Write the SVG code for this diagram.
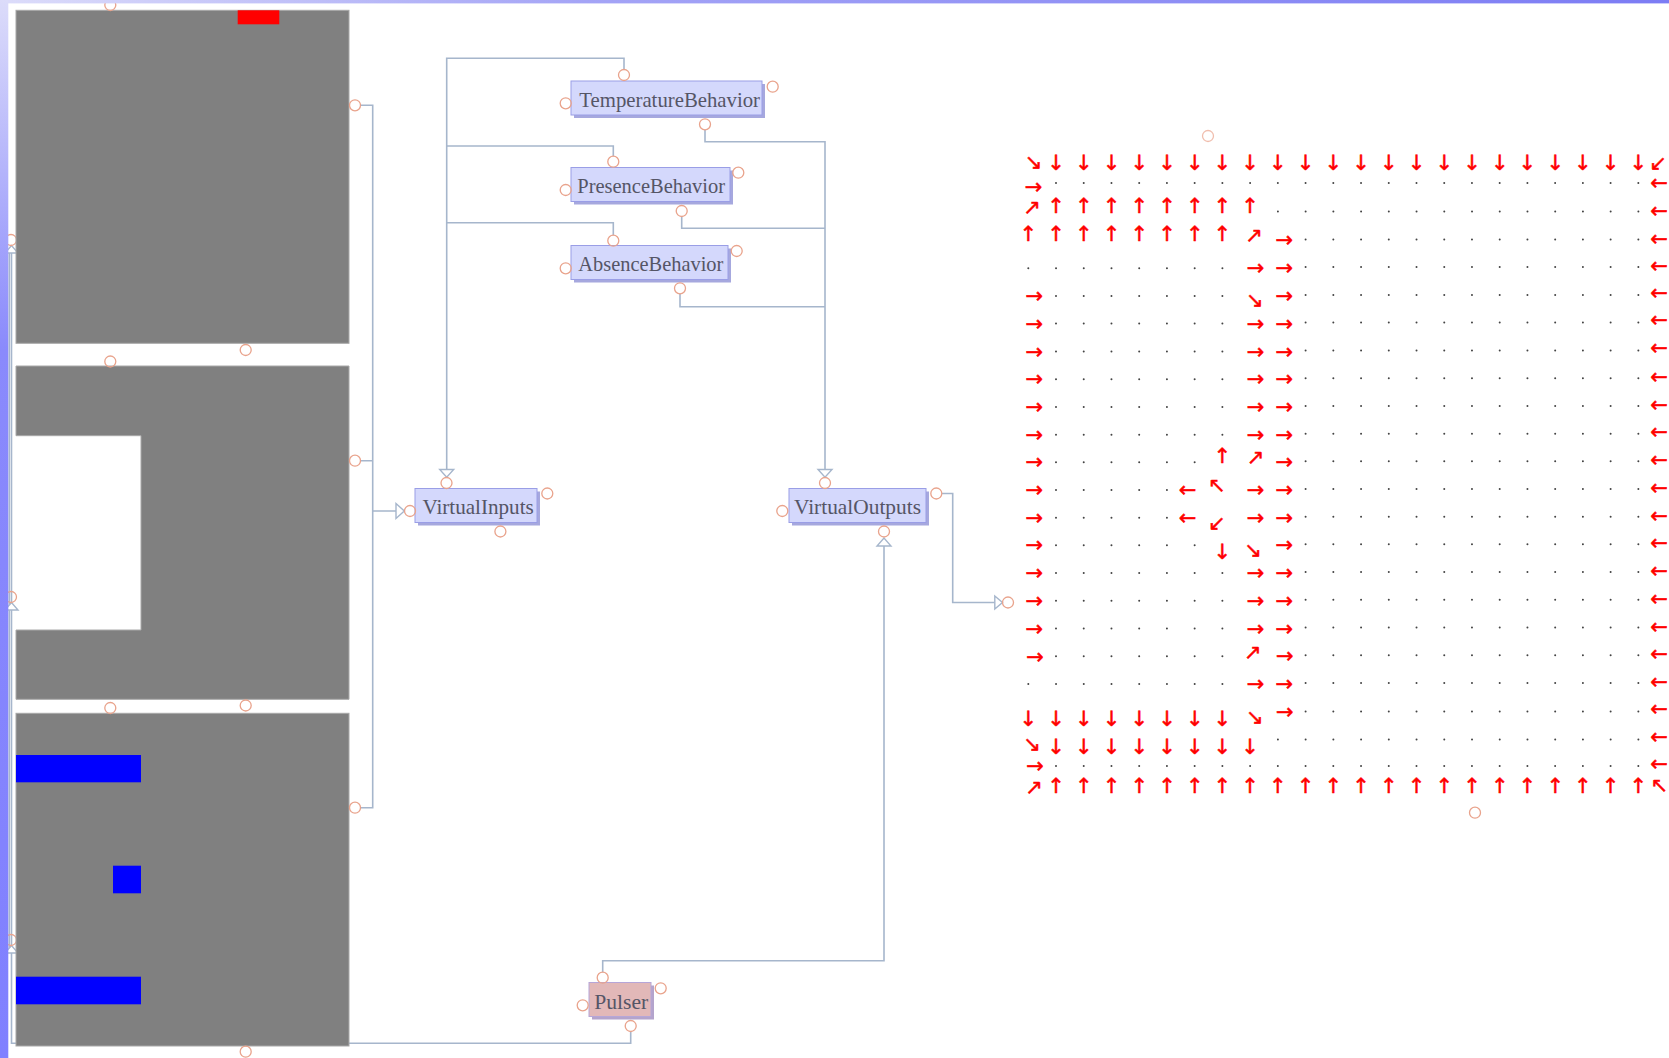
<svg xmlns="http://www.w3.org/2000/svg" width="1669" height="1058" viewBox="0 0 1669 1058">
<defs>
<linearGradient id="gTop" x1="0" y1="0" x2="1669" y2="0" gradientUnits="userSpaceOnUse">
<stop offset="0" stop-color="#dcdcfa"/><stop offset="0.35" stop-color="#a4a4f6"/><stop offset="1" stop-color="#7c7cf4"/>
</linearGradient>
<linearGradient id="gLeft" x1="0" y1="0" x2="0" y2="1058" gradientUnits="userSpaceOnUse">
<stop offset="0" stop-color="#dcdcfa"/><stop offset="0.33" stop-color="#8a8afc"/><stop offset="1" stop-color="#8080ff"/>
</linearGradient>
</defs>
<style>
.port{fill:none;stroke:#e9a38c;stroke-width:1.3}
.wire{fill:none;stroke:#a6b6cc;stroke-width:1.6}
.head{fill:#fff;stroke:#a6b6cc;stroke-width:1.4}
.room{fill:#808080;stroke:#a8a8a8;stroke-width:1}
.nb{fill:#d4d8fc;stroke:#9a9ee6;stroke-width:1}
.sh{fill:#a6a8de}
.pb{fill:#e2b8b8;stroke:#b6a6d8;stroke-width:1}
.psh{fill:#b4a4cc}
.lbl{font-family:"Liberation Serif","DejaVu Serif",serif;font-size:21px;fill:#555566}
.ar{font-family:"DejaVu Sans",sans-serif;font-size:21px;fill:#ff0000;stroke:#ff0000;stroke-width:0.5;text-anchor:middle;dominant-baseline:central}
.dots{fill:none;stroke:#444;stroke-width:2;stroke-linecap:round;stroke-dasharray:0 27.73}
</style>
<rect x="0" y="0" width="1669" height="1058" fill="#fff"/>

<g id="connectors">
<path class="wire" d="M360.5 105.3H372.7V807.7H360.5M360.5 460.7H372.7M372.7 511H396"/>
<path class="wire" d="M624 69.5V58.3H446.7V469.5M446.7 146H613.3V156.2M446.7 222.7H613.3V235.2"/>
<path class="wire" d="M705 129.8V141.7H825V469.5M681.7 216.5V228.3H825M680 293.8V306.7H825"/>
<path class="wire" d="M941.8 493.5H952.7V602.5H994.8"/>
<path class="wire" d="M602.7 972.2V960.7H884V546"/>
<path class="wire" d="M630.7 1031.5V1043.3H11.5V253M9.3 953V253"/>
<path class="head" d="M396 503.5L404.3 511L396 518.5Z"/>
<path class="head" d="M439.7 469.5H453.7L446.7 477.3Z"/>
<path class="head" d="M818 469.5H832L825 477.3Z"/>
<path class="head" d="M994.8 596L1002.5 602.5L994.8 609Z"/>
<path class="head" d="M877 546H891L884 538Z"/>
<path class="head" d="M5 253H18L11.5 245.5Z"/>
<path class="head" d="M5 610H18L11.5 602.5Z"/>
<path class="head" d="M5 953H18L11.5 945.5Z"/>
</g>

<g id="room1">
<circle class="port" cx="11" cy="240" r="5.5"/>
<rect class="room" x="16" y="10.3" width="333" height="333"/>
<rect x="237.7" y="10.3" width="41.6" height="14" fill="#ff0000"/>
<circle class="port" cx="110.3" cy="5" r="5.5"/>
<circle class="port" cx="355" cy="105.3" r="5.5"/>
<circle class="port" cx="245.7" cy="350" r="5.5"/>
</g>

<g id="room2">
<circle class="port" cx="11" cy="597" r="5.5"/>
<path class="room" d="M16 366H349V699.3H16V630H141V435.7H16Z"/>
<circle class="port" cx="110.3" cy="361.5" r="5.5"/>
<circle class="port" cx="355" cy="460.7" r="5.5"/>
<circle class="port" cx="245.7" cy="705.5" r="5.5"/>
</g>

<g id="room3">
<circle class="port" cx="11" cy="940" r="5.5"/>
<rect class="room" x="16" y="713.3" width="333" height="332.7"/>
<rect x="16" y="755" width="125" height="27.3" fill="#0000ff"/>
<rect x="113" y="865.7" width="28" height="27.6" fill="#0000ff"/>
<rect x="16" y="976.7" width="125" height="27.6" fill="#0000ff"/>
<circle class="port" cx="110.3" cy="708" r="5.5"/>
<circle class="port" cx="355" cy="807.7" r="5.5"/>
<circle class="port" cx="245.7" cy="1051.7" r="5.5"/>
</g>

<g id="TemperatureBehavior">
<rect class="sh" x="574" y="84" width="191" height="34"/>
<rect class="nb" x="571" y="81" width="191" height="34"/>
<text class="lbl" x="579.3" y="106.7" textLength="180.7" lengthAdjust="spacingAndGlyphs">TemperatureBehavior</text>
<circle class="port" cx="624" cy="75" r="5.5"/>
<circle class="port" cx="772.7" cy="86.7" r="5.5"/>
<circle class="port" cx="565.7" cy="103.3" r="5.5"/>
<circle class="port" cx="705" cy="124.3" r="5.5"/>
</g>

<g id="PresenceBehavior">
<rect class="sh" x="574" y="170.5" width="159" height="34"/>
<rect class="nb" x="571" y="167.5" width="159" height="34"/>
<text class="lbl" x="577.3" y="192.7" textLength="147.7" lengthAdjust="spacingAndGlyphs">PresenceBehavior</text>
<circle class="port" cx="613.3" cy="161.7" r="5.5"/>
<circle class="port" cx="738.3" cy="172.7" r="5.5"/>
<circle class="port" cx="565.7" cy="190" r="5.5"/>
<circle class="port" cx="681.7" cy="211" r="5.5"/>
</g>

<g id="AbsenceBehavior">
<rect class="sh" x="574" y="248.5" width="157" height="34"/>
<rect class="nb" x="571" y="245.5" width="157" height="34"/>
<text class="lbl" x="578.3" y="271" textLength="145" lengthAdjust="spacingAndGlyphs">AbsenceBehavior</text>
<circle class="port" cx="613.3" cy="240.7" r="5.5"/>
<circle class="port" cx="736.7" cy="251" r="5.5"/>
<circle class="port" cx="565.7" cy="268.3" r="5.5"/>
<circle class="port" cx="680" cy="288.3" r="5.5"/>
</g>

<g id="VirtualInputs">
<rect class="sh" x="418" y="491.5" width="122" height="34"/>
<rect class="nb" x="415" y="488.5" width="122" height="34"/>
<text class="lbl" x="422.4" y="514" textLength="111.4" lengthAdjust="spacingAndGlyphs">VirtualInputs</text>
<circle class="port" cx="446.5" cy="483" r="5.5"/>
<circle class="port" cx="547.3" cy="493.5" r="5.5"/>
<circle class="port" cx="410" cy="511" r="5.5"/>
<circle class="port" cx="500.4" cy="531.5" r="5.5"/>
</g>

<g id="VirtualOutputs">
<rect class="sh" x="792" y="491.5" width="137" height="34"/>
<rect class="nb" x="789" y="488.5" width="137" height="34"/>
<text class="lbl" x="794" y="514" textLength="127" lengthAdjust="spacingAndGlyphs">VirtualOutputs</text>
<circle class="port" cx="825" cy="483" r="5.5"/>
<circle class="port" cx="936.3" cy="493.5" r="5.5"/>
<circle class="port" cx="782.3" cy="511" r="5.5"/>
<circle class="port" cx="884" cy="531.5" r="5.5"/>
</g>

<g id="Pulser">
<rect class="psh" x="592" y="985.5" width="62" height="34"/>
<rect class="pb" x="589" y="982.5" width="62" height="34"/>
<text class="lbl" x="594.3" y="1008.5" textLength="54" lengthAdjust="spacingAndGlyphs">Pulser</text>
<circle class="port" cx="602.7" cy="977.7" r="5.5"/>
<circle class="port" cx="660.7" cy="988.3" r="5.5"/>
<circle class="port" cx="582.7" cy="1005.3" r="5.5"/>
<circle class="port" cx="630.7" cy="1026" r="5.5"/>
</g>

<g id="field">
<circle class="port" cx="1208" cy="136" r="5.5" opacity="0.7"/>
<circle class="port" cx="1008" cy="602.5" r="5.5"/>
<circle class="port" cx="1475" cy="812.7" r="5.5"/>
<path class="dots" d="M1056 183h582.5"/>
<path class="dots" d="M1277.9 211.5h360.6"/>
<path class="dots" d="M1305.6 239.5h332.9"/>
<path class="dots" d="M1028.3 268.3h194.2"/>
<path class="dots" d="M1305.6 267h332.9"/>
<path class="dots" d="M1056 296h166.5"/>
<path class="dots" d="M1305.6 295h332.9"/>
<path class="dots" d="M1056 323.5h166.5"/>
<path class="dots" d="M1305.6 322.5h332.9"/>
<path class="dots" d="M1056 351.5h166.5"/>
<path class="dots" d="M1305.6 350.5h332.9"/>
<path class="dots" d="M1056 379.3h166.5"/>
<path class="dots" d="M1305.6 378.3h332.9"/>
<path class="dots" d="M1056 407h166.5"/>
<path class="dots" d="M1305.6 406h332.9"/>
<path class="dots" d="M1056 434.7h166.5"/>
<path class="dots" d="M1305.6 433.7h332.9"/>
<path class="dots" d="M1056 462.3h138.8"/>
<path class="dots" d="M1305.6 461.3h332.9"/>
<path class="dots" d="M1056 490h111"/>
<path class="dots" d="M1305.6 489h332.9"/>
<path class="dots" d="M1056 517.7h111"/>
<path class="dots" d="M1305.6 516.7h332.9"/>
<path class="dots" d="M1056 545.3h138.8"/>
<path class="dots" d="M1305.6 544.3h332.9"/>
<path class="dots" d="M1056 573h166.5"/>
<path class="dots" d="M1305.6 572h332.9"/>
<path class="dots" d="M1056 600.8h166.5"/>
<path class="dots" d="M1305.6 599.8h332.9"/>
<path class="dots" d="M1056 628.5h166.5"/>
<path class="dots" d="M1305.6 627.5h332.9"/>
<path class="dots" d="M1056 656.3h166.5"/>
<path class="dots" d="M1305.6 655.3h332.9"/>
<path class="dots" d="M1028.3 684h194.2"/>
<path class="dots" d="M1305.6 683h332.9"/>
<path class="dots" d="M1305.6 711.5h332.9"/>
<path class="dots" d="M1277.9 739.5h360.6"/>
<path class="dots" d="M1056 766h582.5"/>

<text class="ar" x="1033.5 1056 1083.8 1111.5 1139.2 1167 1194.7 1222.4 1250.1 1277.9 1305.6 1333.3 1361.1 1388.8 1416.5 1444.3 1472 1499.7 1527.4 1555.2 1582.9 1610.6 1638.4" y="161.5 162.5">↘↓↓↓↓↓↓↓↓↓↓↓↓↓↓↓↓↓↓↓↓↓↓</text>
<text class="ar" x="1034 1056 1083.8 1111.5 1139.2 1167 1194.7 1222.4 1250.1 1277.9 1305.6 1333.3 1361.1 1388.8 1416.5 1444.3 1472 1499.7 1527.4 1555.2 1582.9 1610.6 1638.4" y="787 785.7">↗↑↑↑↑↑↑↑↑↑↑↑↑↑↑↑↑↑↑↑↑↑↑</text>
<text class="ar" x="1658 1659 1659 1659 1659 1659 1659 1659 1659 1659 1659 1659 1659 1659 1659 1659 1659 1659 1659 1659 1659 1659 1659 1659.3" y="163 182.5 210.5 238.5 266.3 292.5 320 348 376.5 404.5 432 460 488 515.5 543 571 598.8 626.7 654 681.7 709.3 737.3 764 785">↙←←←←←←←←←←←←←←←←←←←←←←↖</text>
<text class="ar" x="1033.5 1034.3 1034.3 1034.3 1034.3 1034.3 1034.3 1034.3 1034.3 1034.3 1034.3 1034.3 1034.3 1034.3 1035 1035" y="186.5 296 323.5 351.5 379.3 407 434.7 462.3 490 517.7 545.3 573 600.8 628.5 656.5 765.7">→→→→→→→→→→→→→→→→</text>
<text class="ar" x="1032 1056 1083.8 1111.5 1139.2 1167 1194.7 1222.4 1250.1" y="207.3 206">↗↑↑↑↑↑↑↑↑</text>
<text class="ar" x="1028.3 1056 1083.8 1111.5 1139.2 1167 1194.7 1222.4 1254 1284.3" y="233.5 233.5 233.5 233.5 233.5 233.5 233.5 233.5 235 240.3">↑↑↑↑↑↑↑↑↗→</text>
<text class="ar" x="1255.5 1284.3" y="268.3 268.3">→→</text>
<text class="ar" x="1254.7 1284.3" y="300.3 296">↘→</text>
<text class="ar" x="1255.5 1284.3" y="323.5 323.5">→→</text>
<text class="ar" x="1255.5 1284.3" y="351.5 351.5">→→</text>
<text class="ar" x="1255.5 1284.3" y="379.3 379.3">→→</text>
<text class="ar" x="1255.5 1284.3" y="407 407">→→</text>
<text class="ar" x="1255.5 1284.3" y="434.7 434.7">→→</text>
<text class="ar" x="1222.4 1255.5 1284.3" y="455.5 457.3 462.3">↑↗→</text>
<text class="ar" x="1187.5 1216.7 1255.5 1284.3" y="490 485 490 490">←↖→→</text>
<text class="ar" x="1187.5 1216.7 1255.5 1284.3" y="517.7 522.5 517.7 517.7">←↙→→</text>
<text class="ar" x="1222.4 1253 1284.3" y="552.3 549.5 545.3">↓↘→</text>
<text class="ar" x="1255.5 1284.3" y="573 573">→→</text>
<text class="ar" x="1255.5 1284.3" y="600.8 600.8">→→</text>
<text class="ar" x="1255.5 1284.3" y="628.5 628.5">→→</text>
<text class="ar" x="1252.8 1284.7" y="652 656.3">↗→</text>
<text class="ar" x="1255.5 1284.3" y="684 684">→→</text>
<text class="ar" x="1028.3 1056 1083.8 1111.5 1139.2 1167 1194.7 1222.4 1254.7 1284.7" y="719.3 719.3 719.3 719.3 719.3 719.3 719.3 719.3 716.7 711.7">↓↓↓↓↓↓↓↓↘→</text>
<text class="ar" x="1032 1056 1083.8 1111.5 1139.2 1167 1194.7 1222.4 1250.1" y="744.3 746.7">↘↓↓↓↓↓↓↓↓</text>
</g>

<g id="frame">
<rect x="0" y="0" width="1669" height="3.4" fill="url(#gTop)"/>
<rect x="0" y="0" width="8.3" height="1058" fill="url(#gLeft)"/>
</g>
</svg>
